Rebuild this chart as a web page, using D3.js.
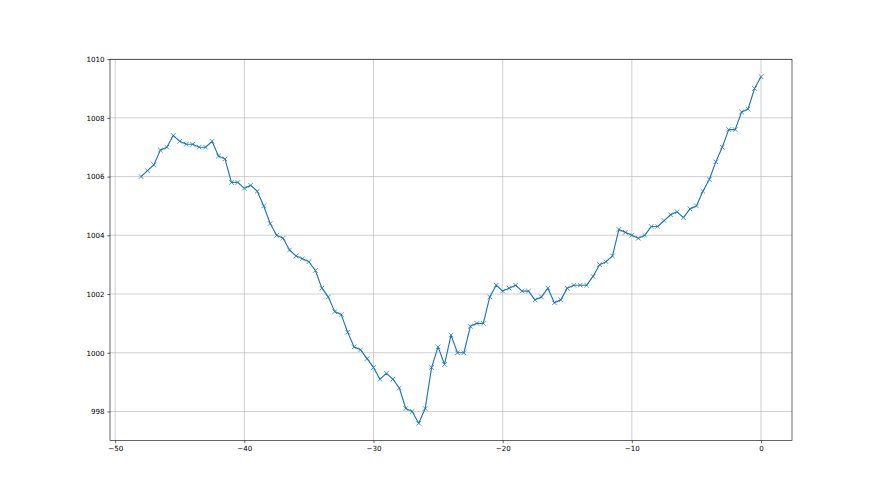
<!DOCTYPE html>
<html>
<head>
<meta charset="utf-8">
<script src="https://cdn.jsdelivr.net/npm/d3@7"></script>
<style>
  body { margin: 0; background: #fff; }
  svg text { font-family: "DejaVu Sans", sans-serif; }
</style>
</head>
<body>
<svg id="chart" width="880" height="495"></svg>
<script>
// hours before now (step 0.5) and pressure readings
var xStart = -48, xStep = 0.5;
var pressure = [
  1006.0, 1006.2, 1006.4, 1006.9, 1007.0, 1007.4, 1007.2, 1007.1, 1007.1, 1007.0,
  1007.0, 1007.2, 1006.7, 1006.6, 1005.8, 1005.8, 1005.6, 1005.7, 1005.5, 1005.0,
  1004.4, 1004.0, 1003.9, 1003.5, 1003.3, 1003.2, 1003.1, 1002.8, 1002.2, 1001.9,
  1001.4, 1001.3, 1000.7, 1000.2, 1000.1, 999.8, 999.5, 999.1, 999.3, 999.1,
  998.8, 998.1, 998.0, 997.6, 998.1, 999.5, 1000.2, 999.6, 1000.6, 1000.0,
  1000.0, 1000.9, 1001.0, 1001.0, 1001.9, 1002.3, 1002.1, 1002.2, 1002.3, 1002.1,
  1002.1, 1001.8, 1001.9, 1002.2, 1001.7, 1001.8, 1002.2, 1002.3, 1002.3, 1002.3,
  1002.6, 1003.0, 1003.1, 1003.3, 1004.2, 1004.1, 1004.0, 1003.9, 1004.0, 1004.3,
  1004.3, 1004.5, 1004.7, 1004.8, 1004.6, 1004.9, 1005.0, 1005.5, 1005.9, 1006.5,
  1007.0, 1007.6, 1007.6, 1008.2, 1008.3, 1009.0, 1009.4
];
var xTicks = [-50, -40, -30, -20, -10, 0];
var yTicks = [998, 1000, 1002, 1004, 1006, 1008, 1010];

var data = pressure.map(function(v, i) { return {x: xStart + i * xStep, y: v}; });

var m = {left: 110, right: 792, top: 59.4, bottom: 440.55};

// matplotlib style 5% autoscale margins
var xMin = d3.min(data, function(d) { return d.x; }), xMax = d3.max(data, function(d) { return d.x; });
var yMin = d3.min(pressure), yMax = d3.max(pressure);
var xm = (xMax - xMin) * 0.05, ym = (yMax - yMin) * 0.05;

var x = d3.scaleLinear().domain([xMin - xm, xMax + xm]).range([m.left, m.right]);
var y = d3.scaleLinear().domain([yMin - ym, yMax + ym]).range([m.bottom, m.top]);

var svg = d3.select("#chart");
var fmt = function(d) { return d < 0 ? "\u2212" + Math.abs(d) : String(d); };

// grid
var grid = svg.append("g").attr("stroke", "#b0b0b0").attr("stroke-width", 0.6);
grid.selectAll(".gx").data(xTicks).enter().append("line")
  .attr("x1", function(d) { return x(d); }).attr("x2", function(d) { return x(d); })
  .attr("y1", m.top).attr("y2", m.bottom);
grid.selectAll(".gy").data(yTicks).enter().append("line")
  .attr("x1", m.left).attr("x2", m.right)
  .attr("y1", function(d) { return y(d); }).attr("y2", function(d) { return y(d); });

// axes
var xAxis = d3.axisBottom(x).tickValues(xTicks).tickFormat(fmt).tickSizeInner(2.7).tickSizeOuter(0).tickPadding(2.7);
var yAxis = d3.axisLeft(y).tickValues(yTicks).tickFormat(fmt).tickSizeInner(2.7).tickSizeOuter(0).tickPadding(2.7);

var gx = svg.append("g").attr("transform", "translate(0," + m.bottom + ")").call(xAxis);
var gy = svg.append("g").attr("transform", "translate(" + m.left + ",0)").call(yAxis);
[gx, gy].forEach(function(g) {
  g.select(".domain").remove();
  g.selectAll(".tick line").attr("stroke", "#000").attr("stroke-width", 0.6);
  g.selectAll(".tick text").attr("fill", "#000").style("font-size", "7.1px");
});

// line + x markers
var line = d3.line().x(function(d) { return x(d.x); }).y(function(d) { return y(d.y); });
svg.append("path").datum(data)
  .attr("fill", "none").attr("stroke", "#1f77b4").attr("stroke-width", 1.15)
  .attr("stroke-linejoin", "round").attr("d", line);

var ms = 2.3;
svg.append("g").selectAll("path").data(data).enter().append("path")
  .attr("d", function(d) {
    var cx = x(d.x), cy = y(d.y);
    return "M" + (cx - ms) + "," + (cy - ms) + "L" + (cx + ms) + "," + (cy + ms) +
           "M" + (cx - ms) + "," + (cy + ms) + "L" + (cx + ms) + "," + (cy - ms);
  })
  .attr("stroke", "#1f77b4").attr("stroke-width", 0.75).attr("fill", "none");

// spines
svg.append("rect").attr("x", m.left).attr("y", m.top)
  .attr("width", m.right - m.left).attr("height", m.bottom - m.top)
  .attr("fill", "none").attr("stroke", "#000").attr("stroke-width", 0.6);
</script>
</body>
</html>
